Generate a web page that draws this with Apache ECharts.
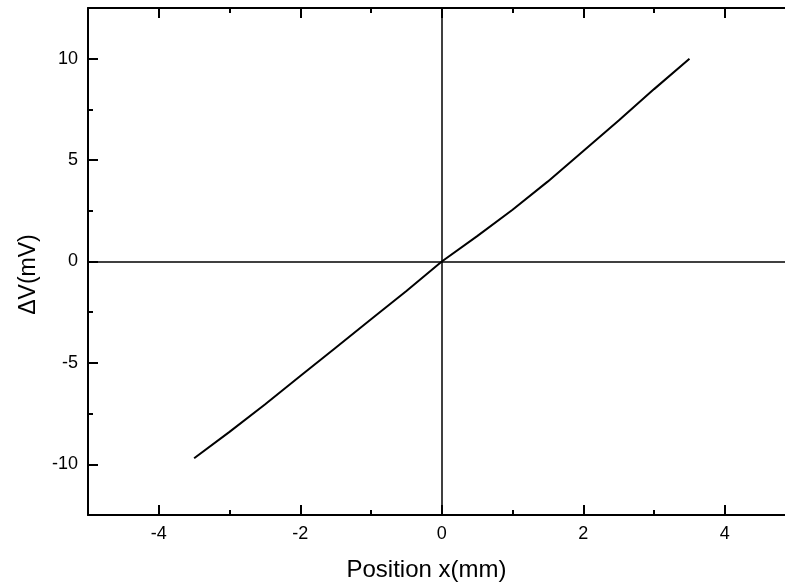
<!DOCTYPE html>
<html>
<head>
<meta charset="utf-8">
<script src="https://cdn.jsdelivr.net/npm/echarts@6/dist/echarts.min.js"></script>
<style>html,body{margin:0;padding:0;background:#fff}#c{width:785px;height:588px}</style>
</head>
<body>
<div id="c"></div>
<script>
const positions = [-3.5, -3, -2.5, -2, -1.5, -1, -0.5, 0, 0.5, 1, 1.5, 2, 2.5, 3, 3.5];
const deltaV = [-9.7, -8.4, -7.05, -5.65, -4.25, -2.85, -1.45, 0, 1.25, 2.55, 3.95, 5.45, 6.95, 8.5, 10.0];
const xMajorTicks = [-4, -2, 0, 2, 4];
const xMinorTicks = [-3, -1, 1, 3];
const yMajorTicks = [-10, -5, 0, 5, 10];
const yMinorTicks = [-7.5, -2.5, 2.5, 7.5];
const zeroLines = [0];

const chart = echarts.init(document.getElementById('c'), null, {renderer: 'canvas'});
const FONT = '"Liberation Sans", Arial, sans-serif';
const axisLineStyle = {color: '#000', width: 2};
const labelStyle = {color: '#000', fontFamily: FONT, fontSize: 18, fontWeight: 'normal'};

const xBase = {type: 'value', min: -5, max: 4.85, interval: 1, splitLine: {show: false}};
const yBase = {type: 'value', min: -12.5, max: 12.5, interval: 2.5, splitLine: {show: false}};

chart.setOption({
  animation: false,
  backgroundColor: '#fff',
  grid: {left: 88, top: 8, right: 0, bottom: 73, containLabel: false},
  xAxis: [
    Object.assign({}, xBase, {
      position: 'bottom',
      axisLine: {show: true, onZero: false, lineStyle: axisLineStyle},
      axisTick: {show: true, inside: true, length: 10, customValues: xMajorTicks, lineStyle: {color: '#000', width: 2}},
      axisLabel: {show: true, customValues: xMajorTicks, margin: 10, ...labelStyle},
      name: 'Position x(mm)', nameLocation: 'middle', nameGap: 43,
      nameTextStyle: {color: '#000', fontFamily: FONT, fontSize: 24, padding: [0, 20, 0, 0]}
    }),
    Object.assign({}, xBase, {
      position: 'bottom',
      axisLine: {show: false, onZero: false},
      axisTick: {show: true, inside: true, length: 5, customValues: xMinorTicks, lineStyle: {color: '#000', width: 2}},
      axisLabel: {show: false}
    }),
    Object.assign({}, xBase, {
      position: 'top',
      axisLine: {show: true, onZero: false, lineStyle: axisLineStyle},
      axisTick: {show: true, inside: true, length: 10, customValues: xMajorTicks, lineStyle: {color: '#000', width: 2}},
      axisLabel: {show: false}
    }),
    Object.assign({}, xBase, {
      position: 'top',
      axisLine: {show: false, onZero: false},
      axisTick: {show: true, inside: true, length: 5, customValues: xMinorTicks, lineStyle: {color: '#000', width: 2}},
      axisLabel: {show: false}
    })
  ],
  yAxis: [
    Object.assign({}, yBase, {
      position: 'left',
      axisLine: {show: true, onZero: false, lineStyle: axisLineStyle},
      axisTick: {show: true, inside: true, length: 10, customValues: yMajorTicks, lineStyle: {color: '#000', width: 2}},
      axisLabel: {show: true, customValues: yMajorTicks, margin: 10, ...labelStyle},
      name: 'ΔV(mV)', nameLocation: 'middle', nameGap: 48, nameRotate: 90,
      nameTextStyle: {color: '#000', fontFamily: FONT, fontSize: 23, padding: [0, 26, 0, 0]}
    }),
    Object.assign({}, yBase, {
      position: 'left',
      axisLine: {show: false, onZero: false},
      axisTick: {show: true, inside: true, length: 5, customValues: yMinorTicks, lineStyle: {color: '#000', width: 2}},
      axisLabel: {show: false}
    })
  ],
  series: [{
    type: 'line',
    xAxisIndex: 0,
    yAxisIndex: 0,
    data: positions.map((x, i) => [x, deltaV[i]]),
    showSymbol: false,
    symbol: 'none',
    lineStyle: {color: '#000', width: 2},
    markLine: {
      silent: true,
      symbol: ['none', 'none'],
      label: {show: false},
      lineStyle: {color: '#000', width: 1.5, type: 'solid'},
      data: zeroLines.map(v => ({xAxis: v})).concat(zeroLines.map(v => ({yAxis: v})))
    }
  }]
});
</script>
</body>
</html>
